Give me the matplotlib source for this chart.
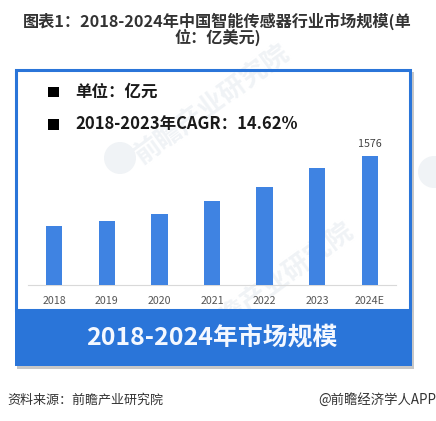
import matplotlib
matplotlib.use('Agg')
import matplotlib.pyplot as plt
from matplotlib.patches import Rectangle, Circle

plt.rcParams['font.family'] = ['Noto Sans CJK SC', 'DejaVu Sans']

years = ['2018', '2019', '2020', '2021', '2022', '2023', '2024E']
values = [723, 785, 875, 1024, 1196, 1435, 1576]
value_labels = {6: '1576'}
title_lines = ['图表1：2018-2024年中国智能传感器行业市场规模(单', '位：亿美元)']
notes = ['单位：亿元', '2018-2023年CAGR：14.62%']
banner = '2018-2024年市场规模'
source = '资料来源：前瞻产业研究院'
credit = '@前瞻经济学人APP'
watermark = '前瞻产业研究院'

W, H = 436, 421
BLUE = '#2a75d9'
BAR = '#3f83e2'
fig = plt.figure(figsize=(W/100, H/100), dpi=100, facecolor='white')

bg = fig.add_axes([0, 0, 1, 1])
bg.set_xlim(0, W)
bg.set_ylim(H, 0)
bg.axis('off')

# shadow, white panel, watermarks, frame, banner
bg.add_patch(Rectangle((17, 72), 397, 297, fc='#9a9a9a', ec='none', alpha=0.55, zorder=1))
bg.add_patch(Rectangle((15.5, 70), 394.5, 240, fc='white', ec='none', zorder=2))
for x, y in ((212, 104), (276, 282)):
    bg.text(x, y, watermark, ha='center', va='center', rotation=36, fontsize=19,
            color='#f0f3f6', fontweight='bold', zorder=2.2)
for x, y in ((120, 158), (434, 172)):
    bg.add_patch(Circle((x, y), 16, fc='#f0f3f6', ec='none', zorder=2.2))
bg.add_patch(Rectangle((15.5, 70), 394.5, 240, fc='none', ec=BLUE, lw=2.2, zorder=2.5))
bg.add_patch(Rectangle((14.5, 309), 397, 57, fc=BLUE, ec='none', zorder=3))

# titles
bg.text(217.5, 21.5, title_lines[0], ha='center', va='center', fontsize=11.65,
        fontweight='bold', color='#333333', zorder=5)
bg.text(218, 38, title_lines[1], ha='center', va='center', fontsize=11.65,
        fontweight='bold', color='#333333', zorder=5)

# notes
for y, t in zip((92, 124.5), notes):
    bg.add_patch(Rectangle((48, y - 5.5), 10.5, 10.5, fc='black', ec='none', zorder=5))
    bg.text(75, y, t, ha='left', va='center', fontsize=11.9, fontweight='bold',
            color='#1a1a1a', zorder=5)

bg.text(212, 338.5, banner, ha='center', va='center', fontsize=17.9, fontweight='bold',
        color='#f4f8ff', zorder=6)
bg.text(7, 400, source, ha='left', va='center', fontsize=9.4, color='#333333', zorder=5)
bg.text(436, 400, credit, ha='right', va='center', fontsize=9.6, color='#333333', zorder=5)

# bars
L, R, T, B = 28, 396, 150, 285
ax = fig.add_axes([L/W, 1 - B/H, (R - L)/W, (B - T)/H])
ax.patch.set_alpha(0)
xs = range(len(years))
ax.bar(xs, values, width=0.31, color=BAR, zorder=3)
ax.set_xlim(-0.5, 6.5)
ax.set_ylim(0, 1655)
ax.set_xticks(list(xs), years)
ax.set_yticks([])
ax.tick_params(axis='x', length=0, pad=8, labelsize=7.7, labelcolor='#555555')
for s in ('top', 'left', 'right'):
    ax.spines[s].set_visible(False)
ax.spines['bottom'].set_color('#d9d9d9')
ax.spines['bottom'].set_linewidth(0.8)
for i, t in value_labels.items():
    ax.annotate(t, (i, values[i]), xytext=(0, 5), textcoords='offset points', ha='center',
                va='bottom', fontsize=7.7, color='#444444')

fig.savefig('out.png', dpi=100, facecolor='white')
